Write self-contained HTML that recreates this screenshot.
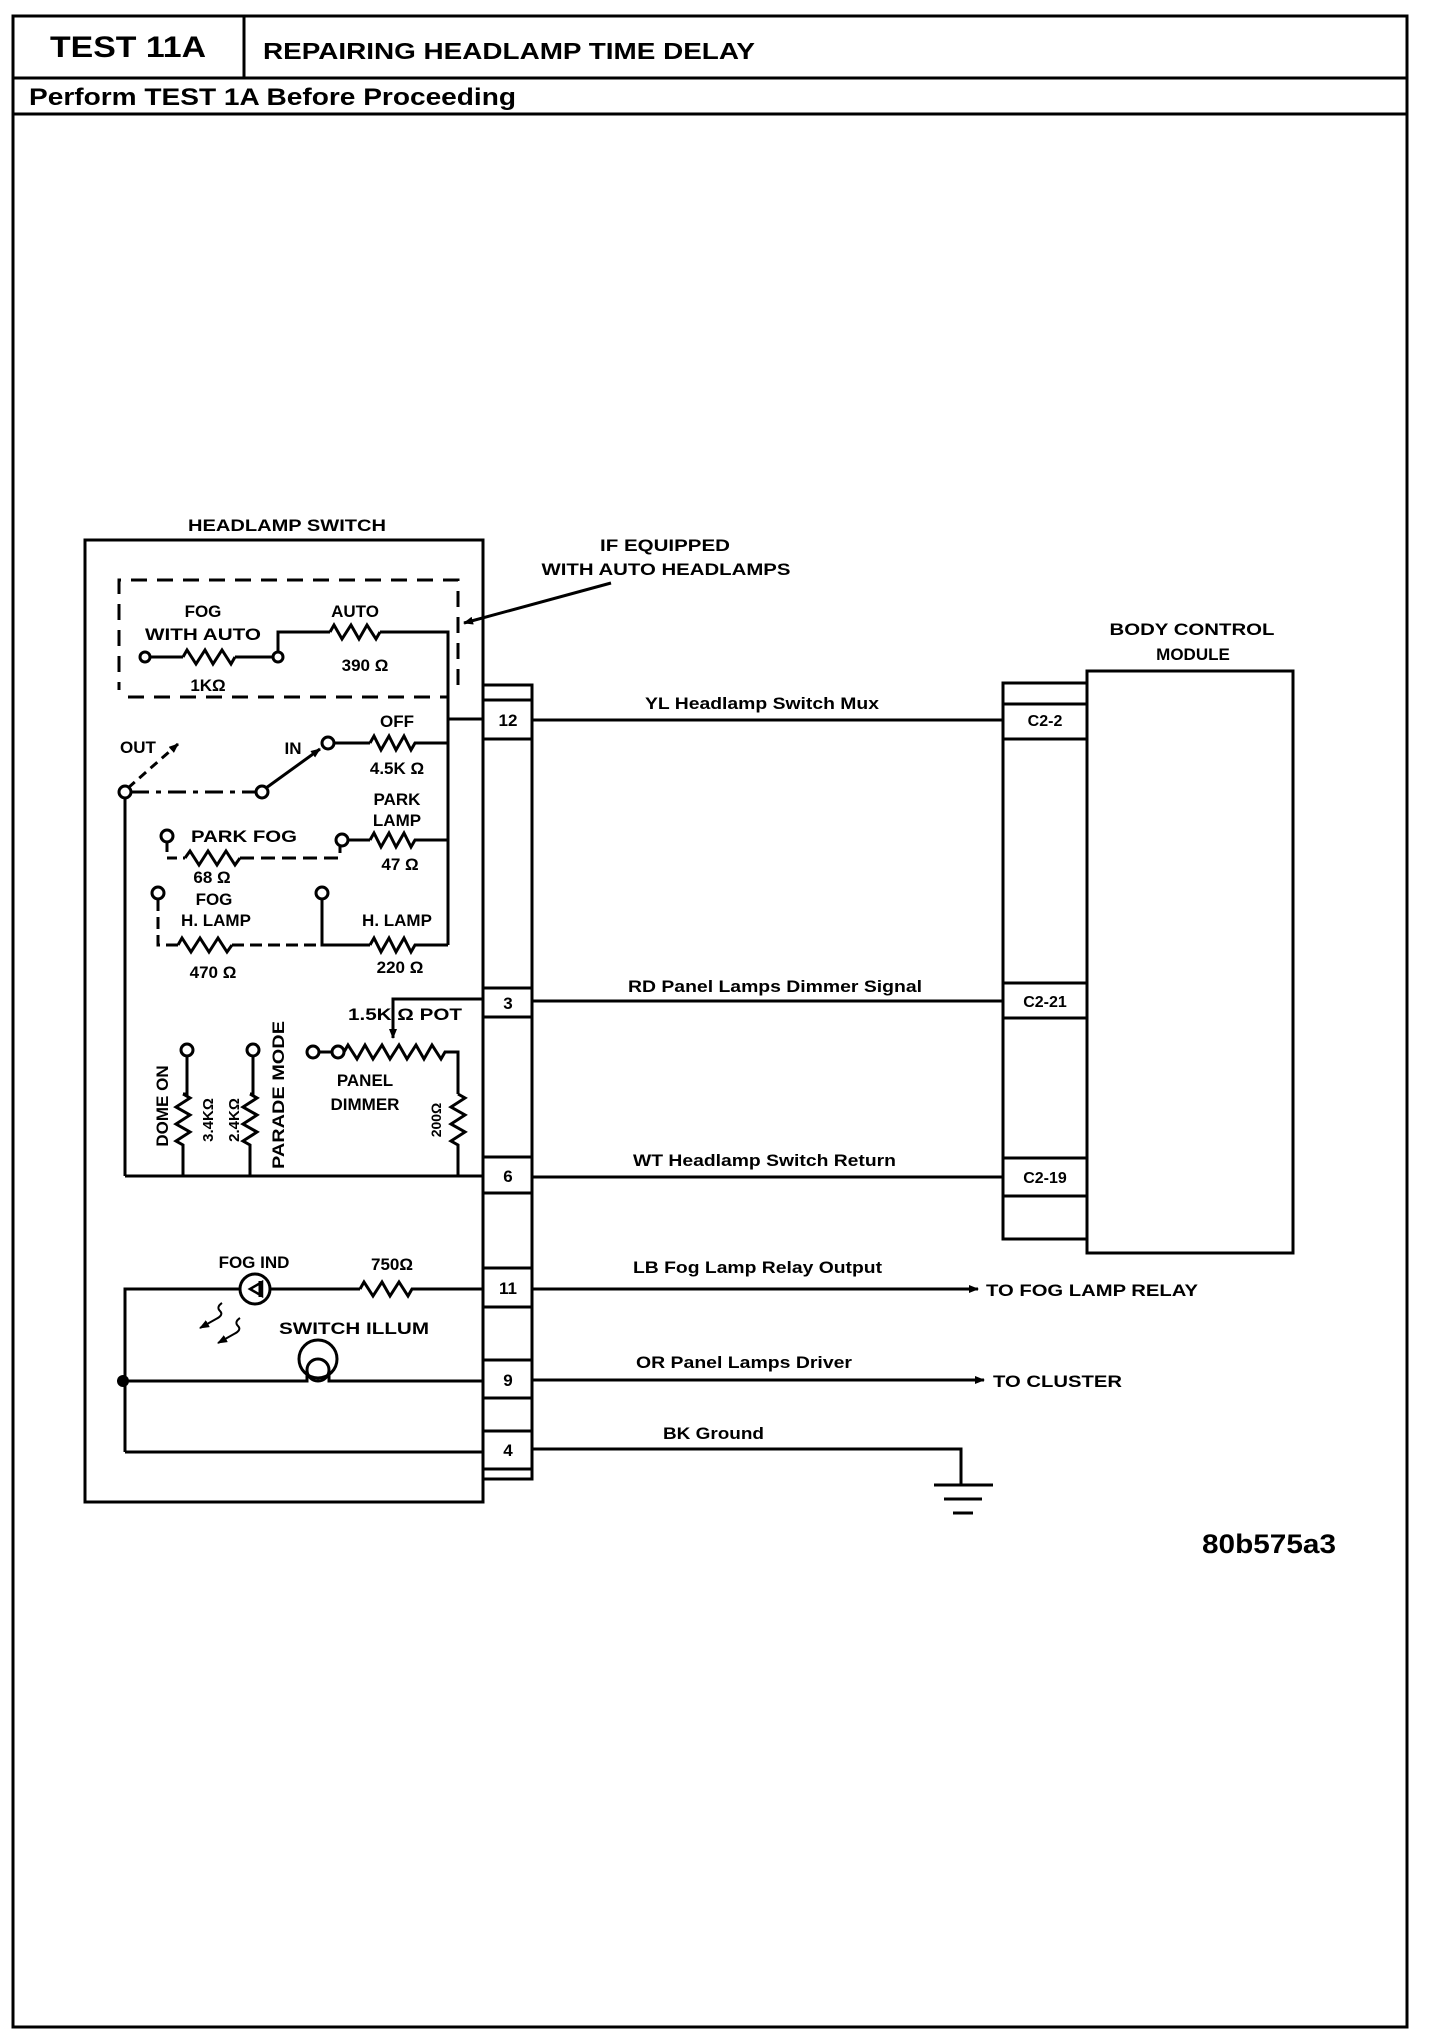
<!DOCTYPE html>
<html><head><meta charset="utf-8"><style>
html,body{margin:0;padding:0;background:#fff;}
svg{display:block;}
text{font-family:"Liberation Sans",Arial,sans-serif;font-weight:bold;fill:#000;}
</style></head><body>
<svg width="1440" height="2032" viewBox="0 0 1440 2032" xmlns="http://www.w3.org/2000/svg">
<defs>
<marker id="ah" markerWidth="10" markerHeight="8" refX="9" refY="4" orient="auto" markerUnits="userSpaceOnUse"><path d="M0,0 L10,4 L0,8 z" fill="#000"/></marker>
</defs>
<g fill="none" stroke="#000" stroke-width="3">
<rect x="13" y="16" width="1394" height="2011"/>
<line x1="13" y1="78" x2="1407" y2="78"/>
<line x1="13" y1="114" x2="1407" y2="114"/>
<line x1="244" y1="16" x2="244" y2="78"/>
</g>
<text x="128" y="57" font-size="30" text-anchor="middle" textLength="156" lengthAdjust="spacingAndGlyphs">TEST 11A</text>
<text x="263" y="59" font-size="23" textLength="492" lengthAdjust="spacingAndGlyphs">REPAIRING HEADLAMP TIME DELAY</text>
<text x="29" y="105" font-size="24" textLength="487" lengthAdjust="spacingAndGlyphs">Perform TEST 1A Before Proceeding</text>

<g fill="none" stroke="#000" stroke-width="3">
<rect x="85" y="540" width="398" height="962"/>
<path d="M128,697 L448,697 M458,685 L458,580 L119,580 L119,690" stroke-dasharray="16,10"/>
<circle cx="145" cy="657" r="5" fill="#fff"/>
<line x1="150" y1="657" x2="183" y2="657"/>
<polyline points="183,657 187,650 196,664 205,650 213,664 222,650 231,664 235,657"/>
<line x1="235" y1="657" x2="273" y2="657"/>
<circle cx="278" cy="657" r="5" fill="#fff"/>
<polyline points="278,652 278,632 330,632"/>
<polyline points="330,632 334,625 342,639 351,625 359,639 367,625 376,639 380,632"/>
<polyline points="380,632 448,632 448,945"/>
<line x1="448" y1="719" x2="483" y2="719"/>
<circle cx="328" cy="743" r="6" fill="#fff"/>
<line x1="334" y1="743" x2="370" y2="743"/>
<polyline points="370,743 374,736 381,750 389,736 396,750 404,736 411,750 415,743 448,743"/>
<line x1="128" y1="788" x2="178" y2="744" stroke-dasharray="9,6" marker-end="url(#ah)"/>
<circle cx="125" cy="792" r="6" fill="#fff"/>
<line x1="131" y1="792" x2="256" y2="792" stroke-dasharray="18,7,5,7"/>
<circle cx="262" cy="792" r="6" fill="#fff"/>
<line x1="266" y1="788" x2="320" y2="749" marker-end="url(#ah)"/>
<line x1="125" y1="798" x2="125" y2="1176"/>
<circle cx="167" cy="836" r="6" fill="#fff"/>
<polyline points="167,842 167,858 185,858" stroke-dasharray="10,6"/>
<polyline points="185,858 190,851 199,865 208,851 217,865 226,851 235,865 240,858"/>
<polyline points="240,858 340,858 340,846" stroke-dasharray="14,7"/>
<circle cx="342" cy="840" r="6" fill="#fff"/>
<line x1="348" y1="840" x2="370" y2="840"/>
<polyline points="370,840 374,833 381,847 389,833 396,847 404,833 411,847 415,840 448,840"/>
<circle cx="158" cy="893" r="6" fill="#fff"/>
<polyline points="158,899 158,945 178,945" stroke-dasharray="12,6"/>
<polyline points="178,945 182,938 191,952 200,938 209,952 218,938 227,952 232,945"/>
<line x1="232" y1="945" x2="322" y2="945" stroke-dasharray="12,6"/>
<circle cx="322" cy="893" r="6" fill="#fff"/>
<polyline points="322,899 322,945 370,945"/>
<polyline points="370,945 374,938 381,952 389,938 396,952 404,938 411,952 415,945 448,945"/>
<polyline points="483,999 393,999 393,1038" marker-end="url(#ah)"/>
<circle cx="313" cy="1052" r="6" fill="#fff"/>
<line x1="319" y1="1052" x2="332" y2="1052"/>
<circle cx="338" cy="1052" r="6" fill="#fff"/>
<polyline points="344,1052 348,1045 357,1059 365,1045 373,1059 382,1045 390,1059 399,1045 407,1059 416,1045 424,1059 432,1045 441,1059 445,1052 458,1052 458,1094"/>
<polyline points="458,1094 465,1098 451,1107 465,1115 451,1124 465,1132 451,1141 458,1145 458,1176"/>
<circle cx="187" cy="1050" r="6" fill="#fff"/>
<polyline points="187,1056 187,1094 183,1094"/>
<polyline points="183,1094 190,1098 176,1107 190,1115 176,1124 190,1132 176,1141 183,1145 183,1176"/>
<circle cx="253" cy="1050" r="6" fill="#fff"/>
<polyline points="253,1056 253,1094 250,1094"/>
<polyline points="250,1094 257,1098 243,1107 257,1115 243,1124 257,1132 243,1141 250,1145 250,1176"/>
<line x1="125" y1="1176" x2="483" y2="1176"/>
<polyline points="125,1452 125,1289 240,1289"/>
<circle cx="255" cy="1289" r="15"/>
<line x1="270" y1="1289" x2="360" y2="1289"/>
<polyline points="360,1289 364,1282 373,1296 382,1282 390,1296 399,1282 408,1296 412,1289 483,1289"/>
<line x1="260" y1="1281" x2="260" y2="1297"/>
<path d="M222,1303 q-6,4 -2,8 q4,4 -4,8 L200,1328" stroke-width="2" marker-end="url(#ah)"/>
<path d="M240,1318 q-6,4 -2,8 q4,4 -4,8 L218,1343" stroke-width="2" marker-end="url(#ah)"/>
<circle cx="318" cy="1359" r="19"/>
<circle cx="318" cy="1370" r="11"/>
<polyline points="125,1381 307,1381 307,1370"/>
<polyline points="329,1370 329,1381 483,1381"/>
<line x1="125" y1="1452" x2="483" y2="1452"/>
<line x1="611" y1="583" x2="464" y2="623" marker-end="url(#ah)"/>
<rect x="483" y="685" width="49" height="794"/>
<path d="M483,700H532M483,739H532M483,988H532M483,1017H532M483,1157H532M483,1193H532M483,1268H532M483,1307H532M483,1360H532M483,1398H532M483,1431H532M483,1469H532"/>
<line x1="532" y1="720" x2="1003" y2="720"/>
<line x1="532" y1="1001" x2="1003" y2="1001"/>
<line x1="532" y1="1177" x2="1003" y2="1177"/>
<line x1="532" y1="1289" x2="978" y2="1289" marker-end="url(#ah)"/>
<line x1="532" y1="1380" x2="984" y2="1380" marker-end="url(#ah)"/>
<polyline points="532,1449 961,1449 961,1485"/>
<line x1="934" y1="1485" x2="993" y2="1485"/>
<line x1="944" y1="1499" x2="982" y2="1499"/>
<line x1="953" y1="1513" x2="973" y2="1513"/>
<rect x="1003" y="683" width="84" height="556"/>
<path d="M1003,704H1087M1003,739H1087M1003,983H1087M1003,1018H1087M1003,1158H1087M1003,1196H1087"/>
<rect x="1087" y="671" width="206" height="582"/>
</g>
<polygon points="262,1289 250,1282 250,1296" fill="none" stroke="#000" stroke-width="2.5" transform="rotate(180 256 1289)"/>
<circle cx="123" cy="1381" r="6" fill="#000"/>

<g font-size="17">
<text x="287" y="531" text-anchor="middle" textLength="198" lengthAdjust="spacingAndGlyphs">HEADLAMP SWITCH</text>
<text x="203" y="617" text-anchor="middle">FOG</text>
<text x="203" y="640" text-anchor="middle" textLength="116" lengthAdjust="spacingAndGlyphs">WITH AUTO</text>
<text x="208" y="691" text-anchor="middle">1KΩ</text>
<text x="355" y="617" text-anchor="middle">AUTO</text>
<text x="365" y="671" text-anchor="middle">390 Ω</text>
<text x="397" y="727" text-anchor="middle">OFF</text>
<text x="293" y="754" text-anchor="middle">IN</text>
<text x="138" y="753" text-anchor="middle">OUT</text>
<text x="397" y="774" text-anchor="middle">4.5K Ω</text>
<text x="397" y="805" text-anchor="middle">PARK</text>
<text x="397" y="826" text-anchor="middle">LAMP</text>
<text x="400" y="870" text-anchor="middle">47 Ω</text>
<text x="244" y="842" text-anchor="middle" textLength="106" lengthAdjust="spacingAndGlyphs">PARK FOG</text>
<text x="212" y="883" text-anchor="middle">68 Ω</text>
<text x="214" y="905" text-anchor="middle">FOG</text>
<text x="216" y="926" text-anchor="middle">H. LAMP</text>
<text x="213" y="978" text-anchor="middle">470 Ω</text>
<text x="397" y="926" text-anchor="middle">H. LAMP</text>
<text x="400" y="973" text-anchor="middle">220 Ω</text>
<text x="348" y="1020" textLength="114" lengthAdjust="spacingAndGlyphs">1.5K  Ω POT</text>
<text x="365" y="1086" text-anchor="middle">PANEL</text>
<text x="365" y="1110" text-anchor="middle">DIMMER</text>
<text transform="translate(168 1106) rotate(-90)" text-anchor="middle">DOME ON</text>
<text transform="translate(213 1120) rotate(-90)" text-anchor="middle" font-size="15">3.4KΩ</text>
<text transform="translate(239 1120) rotate(-90)" text-anchor="middle" font-size="15">2.4KΩ</text>
<text transform="translate(284 1095) rotate(-90)" text-anchor="middle" textLength="148" lengthAdjust="spacingAndGlyphs">PARADE MODE</text>
<text transform="translate(441 1120) rotate(-90)" text-anchor="middle" font-size="14">200Ω</text>
<text x="254" y="1268" text-anchor="middle">FOG IND</text>
<text x="392" y="1270" text-anchor="middle">750Ω</text>
<text x="354" y="1334" text-anchor="middle" textLength="150" lengthAdjust="spacingAndGlyphs">SWITCH ILLUM</text>
<text x="508" y="726" text-anchor="middle">12</text>
<text x="508" y="1009" text-anchor="middle">3</text>
<text x="508" y="1182" text-anchor="middle">6</text>
<text x="508" y="1294" text-anchor="middle">11</text>
<text x="508" y="1386" text-anchor="middle">9</text>
<text x="508" y="1456" text-anchor="middle">4</text>
<text x="665" y="551" text-anchor="middle" textLength="130" lengthAdjust="spacingAndGlyphs">IF EQUIPPED</text>
<text x="666" y="575" text-anchor="middle" textLength="249" lengthAdjust="spacingAndGlyphs">WITH AUTO HEADLAMPS</text>
<text x="1192" y="635" text-anchor="middle" textLength="165" lengthAdjust="spacingAndGlyphs">BODY CONTROL</text>
<text x="1193" y="660" text-anchor="middle">MODULE</text>
<text x="1045" y="726" text-anchor="middle" font-size="16">C2-2</text>
<text x="1045" y="1007" text-anchor="middle" font-size="16">C2-21</text>
<text x="1045" y="1183" text-anchor="middle" font-size="16">C2-19</text>
<text x="645" y="709" textLength="234" lengthAdjust="spacingAndGlyphs">YL Headlamp Switch Mux</text>
<text x="628" y="992" textLength="294" lengthAdjust="spacingAndGlyphs">RD Panel Lamps Dimmer Signal</text>
<text x="633" y="1166" textLength="263" lengthAdjust="spacingAndGlyphs">WT Headlamp Switch Return</text>
<text x="633" y="1273" textLength="249" lengthAdjust="spacingAndGlyphs">LB Fog Lamp Relay Output</text>
<text x="636" y="1368" textLength="216" lengthAdjust="spacingAndGlyphs">OR Panel Lamps Driver</text>
<text x="663" y="1439" textLength="101" lengthAdjust="spacingAndGlyphs">BK Ground</text>
<text x="986" y="1296" textLength="212" lengthAdjust="spacingAndGlyphs">TO FOG LAMP RELAY</text>
<text x="993" y="1387" textLength="129" lengthAdjust="spacingAndGlyphs">TO CLUSTER</text>
</g>
<text x="1202" y="1553" font-size="27" textLength="134" lengthAdjust="spacingAndGlyphs">80b575a3</text>
</svg>
</body></html>
